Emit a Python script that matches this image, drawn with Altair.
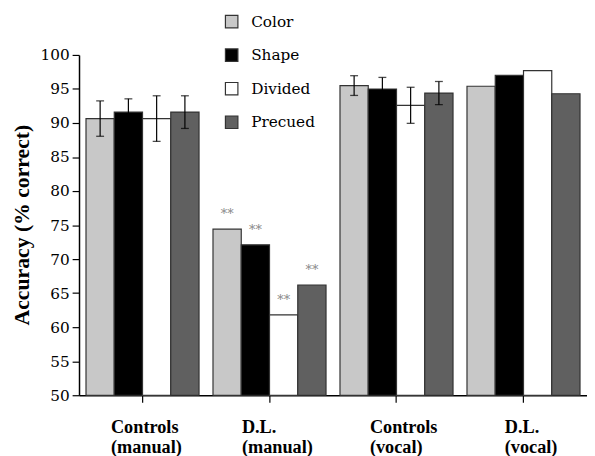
import altair as alt
import pandas as pd

groups = ["Controls (manual)", "D.L. (manual)", "Controls (vocal)", "D.L. (vocal)"]
conditions = ["Color", "Shape", "Divided", "Precued"]
fill_colors = ["#c8c8c8", "#000000", "#ffffff", "#606060"]

controls_manual = [90.65, 91.6, 90.65, 91.6]
dl_manual = [74.4, 72.1, 61.8, 66.2]
controls_vocal = [95.5, 95.0, 92.6, 94.4]
dl_vocal = [95.4, 97.0, 97.7, 94.3]

controls_manual_err = [2.6, 1.95, 3.35, 2.4]
controls_vocal_err = [1.45, 1.7, 2.65, 1.7]

dl_manual_marks = ["**", "**", "**", "**"]

series = [controls_manual, dl_manual, controls_vocal, dl_vocal]
errors = {"Controls (manual)": controls_manual_err, "Controls (vocal)": controls_vocal_err}
marks = {"D.L. (manual)": dl_manual_marks}

rows = []
for g, vals in zip(groups, series):
    for i, c in enumerate(conditions):
        r = {"group": g, "condition": c, "value": vals[i]}
        if g in errors:
            r["lo"] = vals[i] - errors[g][i]
            r["hi"] = vals[i] + errors[g][i]
        if g in marks:
            r["mark"] = marks[g][i]
        rows.append(r)
df = pd.DataFrame(rows)

FONT_BOLD = "Liberation Serif"
FONT_REG = "DejaVu Serif"

label_offset = {
    "condition": [
        {"test": "datum.value == 'D.L. (manual)'", "value": -28},
        {"test": "datum.value == 'Controls (vocal)'", "value": -27},
        {"test": "datum.value == 'D.L. (vocal)'", "value": -19},
    ],
    "value": -32,
}

x_scale = alt.Scale(paddingInner=0.11, paddingOuter=0.055)
x_axis = alt.Axis(
    title=None,
    labelAngle=0,
    labelExpr="split(datum.label, ' ')",
    labelAlign="left",
    labelBaseline="top",
    labelOffset=label_offset,
    labelFont=FONT_BOLD,
    labelFontWeight="bold",
    labelFontSize=18.5,
    labelLineHeight=20,
    labelColor="black",
    labelPadding=16,
    labelOverlap=False,
    tickSize=7,
    tickColor="black",
    domainColor="black",
    tickWidth=1.2,
    domainWidth=1.5,
)
y_scale = alt.Scale(domain=[50, 100], nice=False, zero=False)
y_axis = alt.Axis(
    values=[50, 55, 60, 65, 70, 75, 80, 85, 90, 95, 100],
    title="Accuracy (% correct)",
    titleFont=FONT_BOLD,
    titleFontWeight="bold",
    titleFontSize=22,
    titleColor="black",
    titleAngle=-90,
    titleX=-58,
    titleY=172,
    titleAlign="center",
    titleBaseline="middle",
    labelFont=FONT_REG,
    labelFontSize=15.5,
    labelColor="black",
    labelPadding=3,
    labelOverlap=False,
    labelFlush=False,
    tickSize=7,
    tickColor="black",
    tickWidth=1.2,
    domainColor="black",
    domainWidth=1.5,
    grid=False,
)


def X():
    return alt.X("group:N", sort=groups, scale=x_scale, axis=x_axis)


def XO():
    return alt.XOffset("condition:N", sort=conditions, scale=alt.Scale(paddingInner=0, paddingOuter=0))


def Y(field):
    return alt.Y(field + ":Q", scale=y_scale, axis=y_axis)


base = alt.Chart(df)

bars = base.mark_bar(stroke="#333333", strokeWidth=1.2).encode(
    x=X(),
    xOffset=XO(),
    y=Y("value"),
    y2=alt.datum(50),
    color=alt.Color(
        "condition:N",
        sort=conditions,
        scale=alt.Scale(domain=conditions, range=fill_colors),
        legend=alt.Legend(
            title=None,
            orient="none",
            legendX=147,
            legendY=-41.5,
            direction="vertical",
            symbolType="square",
            symbolSize=160,
            symbolStrokeColor="#333333",
            symbolStrokeWidth=1.2,
            symbolOpacity=1,
            labelFont=FONT_REG,
            labelFontSize=15.5,
            labelColor="black",
            labelOffset=12,
            rowPadding=16,
        ),
    ),
)

err_df = base.transform_filter("isValid(datum.lo)")
rules = err_df.mark_rule(color="black", strokeWidth=1.2).encode(
    x=X(), xOffset=XO(), y=Y("lo"), y2="hi:Q",
)
caps_hi = err_df.mark_tick(color="black", size=8, thickness=1.3).encode(
    x=X(), xOffset=XO(), y=Y("hi"),
)
caps_lo = err_df.mark_tick(color="black", size=8, thickness=1.3).encode(
    x=X(), xOffset=XO(), y=Y("lo"),
)
stars = base.transform_filter("isValid(datum.mark)").mark_text(
    dy=-15, color="#888888", fontSize=13, font=FONT_REG, baseline="middle"
).encode(
    x=X(), xOffset=XO(), y=Y("value"), text="mark:N",
)

chart = (
    alt.layer(bars, rules, caps_hi, caps_lo, stars)
    .properties(
        width=515,
        height=345,
        autosize="none",
        padding={"left": 72, "top": 44.5, "right": 0, "bottom": 58},
        background="white",
    )
    .configure_view(stroke=None)
)

chart.save("out.html", embed_options={"renderer": "svg", "actions": False})
